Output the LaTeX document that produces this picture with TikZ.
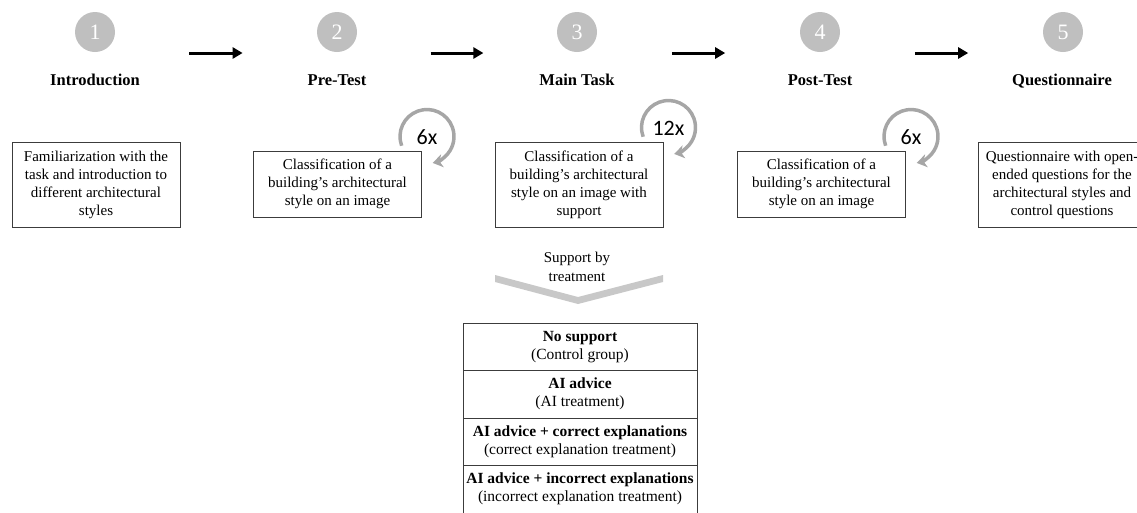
\documentclass[tikz,border=0pt]{standalone}
\usepackage{fontspec}
\setmainfont{Liberation Serif}
\newfontfamily\repfont{Carlito}
\usetikzlibrary{arrows.meta,positioning,calc}
\definecolor{numgray}{RGB}{191,191,191}
\definecolor{loopgray}{RGB}{166,166,166}
\definecolor{chevgray}{RGB}{200,200,200}
\definecolor{framegray}{RGB}{60,60,60}

\begin{document}
\begin{tikzpicture}[x=1pt,y=1pt,
    num node/.style={circle,fill=numgray,text=white,minimum size=40pt,inner sep=0pt,font=\fontsize{22}{22}\selectfont},
    title node/.style={anchor=base,font=\fontsize{16.5}{18}\selectfont\bfseries},
    task node/.style={draw=framegray,line width=1pt,align=center,minimum width=168pt,inner sep=0pt,font=\fontsize{15}{18}\selectfont},
    row node/.style={draw=framegray,line width=1pt,align=center,minimum width=234pt,minimum height=47.5pt,inner sep=0pt,outer sep=0pt,font=\fontsize{15.5}{18}\selectfont},
    flow/.style={-{Triangle[length=10pt,width=11pt]},line width=3pt},
    rep arrow/.style={-{Stealth[length=10pt,width=13pt,inset=3pt]},loopgray,line width=3.5pt},
    rep label/.style={font=\repfont\fontsize{22}{22}\selectfont}]

  \useasboundingbox (0,0) rectangle (1137,-512);
  \clip (0,0) rectangle (1137,-512);

  \node[num node] (s1) at (95,-32) {1};
  \node[num node] (s2) at (337,-32) {2};
  \node[num node] (s3) at (577,-32) {3};
  \node[num node] (s4) at (820,-32) {4};
  \node[num node] (s5) at (1063,-32) {5};

  \node[title node] (t1) at (95,-85) {Introduction};
  \node[title node] (t2) at (337,-85) {Pre-Test};
  \node[title node] (t3) at (577,-85) {Main Task};
  \node[title node] (t4) at (820,-85) {Post-Test};
  \node[title node] (t5) at (1062,-85) {Questionnaire};

  \foreach \i/\j in {1/2,2/3,3/4,4/5}
    \draw[flow] ($(s\i)!.39!(s\j)+(0,-21)$) -- ($(s\i)!.61!(s\j)+(0,-21)$);

  \node[task node,minimum height=85pt] (b1) at (96,-184.5) {Familiarization with the\\task and introduction to\\different architectural\\styles};
  \node[task node,minimum height=66pt] (b2) at (337.5,-184) {Classification of a\\building’s architectural\\style on an image};
  \node[task node,minimum height=85pt] (b3) at (579,-184.5) {Classification of a\\building’s architectural\\style on an image with\\support};
  \node[task node,minimum height=66pt] (b4) at (821.5,-184) {Classification of a\\building’s architectural\\style on an image};
  \node[task node,minimum height=85pt] (b5) at (1062,-184.5) {Questionnaire with open-\\ended questions for the\\architectural styles and\\control questions};

  \foreach \b/\n in {b2/6x,b3/12x,b4/6x} {
    \draw[rep arrow] ([shift={(5,14)}]\b.north east) ++(200:27) arc[start angle=200,end angle=-78,radius=27];
    \node[rep label] at ([shift={(5,13)}]\b.north east) {\n};
  }

  \fill[chevgray] (495,-275) -- (578,-297) -- (663,-275) -- (663,-282) -- (578,-304) -- (495,-282) -- cycle;
  \node[align=center,font=\fontsize{15}{19.5}\selectfont] (sup) at (577,-267) {Support by\\treatment};

  \node[row node] (r1) at (580,-346.75) {\textbf{No support}\\(Control group)};
  \node[row node,below=0pt of r1] (r2) {\textbf{AI advice}\\(AI treatment)};
  \node[row node,below=0pt of r2] (r3) {\textbf{AI advice + correct explanations}\\(correct explanation treatment)};
  \node[row node,below=0pt of r3] (r4) {\textbf{AI advice + incorrect explanations}\\(incorrect explanation treatment)};
\end{tikzpicture}
\end{document}
